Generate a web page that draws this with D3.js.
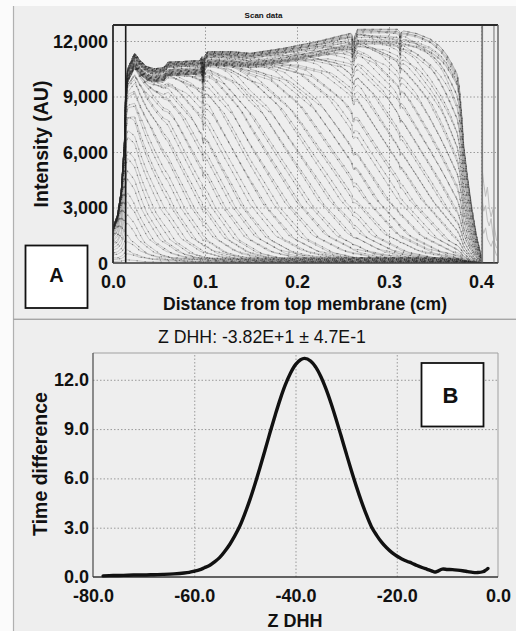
<!DOCTYPE html>
<html><head><meta charset="utf-8">
<script src="https://cdn.jsdelivr.net/npm/d3@7"></script>
<style>body{margin:0;background:#fff}svg{display:block}text{font-family:"Liberation Sans",Arial,sans-serif}</style>
</head><body><svg id="c" width="516" height="631"></svg>
<script>
// ---------- Panel A data ----------
const aTitle = "Scan data";
const aXTicks = [0.0, 0.1, 0.2, 0.3, 0.4];
const aXTickLabels = ["0.0", "0.1", "0.2", "0.3", "0.4"];
const aYTicks = [0, 3000, 6000, 9000, 12000];
const aYTickLabels = ["0", "3,000", "6,000", "9,000", "12,000"];
const meniscusX = 0.0138;
const refLinesX = [0.4013, 0.4141];
// top plateau envelope of the scans (cm, AU)
const envX = [0.0, 0.005, 0.009, 0.0125, 0.0138, 0.016, 0.0235, 0.03, 0.037, 0.045, 0.055, 0.06, 0.08, 0.095, 0.0968, 0.0975, 0.0982, 0.0992, 0.103, 0.13, 0.149, 0.185, 0.221, 0.25, 0.258, 0.2598, 0.2605, 0.2618, 0.2626, 0.266, 0.309, 0.3115, 0.3122, 0.3132, 0.316, 0.33, 0.345, 0.3554, 0.362, 0.368, 0.3742, 0.3764, 0.378, 0.3795, 0.381, 0.385, 0.39, 0.395, 0.40, 0.402, 0.42];
const envY = [1900, 2600, 3900, 6600, 9300, 10500, 11330, 10900, 10600, 10500, 10550, 10850, 10900, 10950, 11150, 10500, 10500, 11150, 11420, 11420, 11330, 11600, 11960, 12320, 12410, 12350, 11950, 11950, 12250, 12630, 12630, 12500, 12150, 12450, 12540, 12400, 12100, 11700, 11300, 10800, 10200, 9530, 8632, 7730, 6500, 4800, 3000, 1500, 400, 0, 0];
// normalised boundary profile (fraction of plateau vs distance / width)
const profU = [-3, -2, -1.5, -1, -0.5, 0, 0.5, 1, 1.5, 2, 2.5, 3];
const profF = [1, 0.996, 0.975, 0.9, 0.74, 0.5, 0.27, 0.11, 0.04, 0.012, 0.003, 0];
// boundary midpoint of each scan (cm)
const scanMid = [
-0.050,-0.040,-0.031,-0.023,-0.016,-0.010,-0.004,0.001,0.006,0.011,
0.016,0.021,0.026,0.031,0.036,0.041,0.046,0.051,0.056,0.061,
0.066,0.071,0.076,0.081,0.086,0.091,0.096,0.101,0.106,0.111,
0.116,0.121,0.128,0.134,0.139,0.145,0.151,0.156,0.162,0.168,
0.173,0.179,0.185,0.190,0.196,0.202,0.208,0.213,0.219,0.225,
0.231,0.236,0.242,0.248,0.254,0.259,0.265,0.271,0.279,0.285,
0.291,0.297,0.302,0.308,0.314,0.320,0.326,0.332,0.338,0.344,
0.350,0.356,0.362,0.368,0.374,0.380,0.386,0.392,0.398,0.405,
0.412,0.420,0.428,0.436,0.445,0.455,0.470,0.490,0.520,0.560,
0.600,0.650,0.700,0.760,0.820,0.900];
// boundary width of each scan (cm)
const scanWidth = [
0.033,0.034,0.035,0.035,0.036,0.037,0.038,0.038,0.039,0.040,
0.041,0.041,0.042,0.043,0.044,0.044,0.045,0.046,0.047,0.047,
0.048,0.049,0.050,0.050,0.051,0.052,0.053,0.053,0.054,0.055,
0.056,0.056,0.057,0.058,0.059,0.059,0.060,0.061,0.062,0.062,
0.063,0.064,0.065,0.065,0.066,0.067,0.068,0.068,0.069,0.070,
0.070,0.071,0.071,0.072,0.072,0.073,0.073,0.074,0.074,0.075,
0.075,0.075,0.076,0.076,0.076,0.077,0.077,0.077,0.078,0.078,
0.078,0.078,0.078,0.078,0.078,0.078,0.078,0.078,0.078,0.078,
0.078,0.078,0.078,0.078,0.078,0.078,0.078,0.078,0.078,0.078,
0.078,0.078,0.078,0.078,0.078,0.078];
// plateau level of each scan (fraction of envelope)
const scanLevel = [
0.92,0.93,0.925,0.935,0.93,0.94,0.935,0.945,0.93,0.95,
0.94,0.955,0.935,0.96,0.945,0.97,0.94,0.965,0.95,0.975,
0.935,0.98,0.945,0.97,0.955,0.985,0.94,0.975,0.96,0.99,
0.945,0.98,0.95,0.995,0.935,0.985,0.955,1.0,0.94,0.99,
0.96,0.975,0.945,1.0,0.95,0.985,0.935,0.995,0.965,0.98,
0.94,0.99,0.955,1.0,0.945,0.985,0.935,0.99,0.96,0.975,
0.94,0.995,0.95,1.0,0.935,0.98,0.955,0.99,0.945,1.0,
0.935,0.985,0.95,0.995,0.94,0.98,0.96,1.0,0.945,0.99,
0.935,0.985,0.955,1.0,0.94,0.975,0.95,0.995,0.965,0.985,
0.94,1.0,0.955,0.99,0.945,1.0];
// small baseline offsets seen along the bottom (AU)
const scanBase = [60, 220, 120, 280, 90, 180, 30, 250, 110, 200, 70, 150];
// faint traces right of the bottom reference line
const tailX = [0.401, 0.403, 0.405, 0.407, 0.409, 0.411, 0.413, 0.415, 0.417];
const tail1 = [5200, 4300, 3600, 4100, 3000, 2500, 2900, 1800, 1200];
const tail2 = [3500, 2800, 3100, 2300, 2000, 2400, 1500, 1100, 800];
const tail3 = [2000, 1600, 1900, 1300, 1100, 900, 1200, 700, 400];

// ---------- Panel B data ----------
const bTitle = "Z DHH: -3.82E+1 \u00B1 4.7E-1";
const bXTicks = [-80, -60, -40, -20, 0];
const bXTickLabels = ["-80.0", "-60.0", "-40.0", "-20.0", "0.0"];
const bYTicks = [0, 3, 6, 9, 12];
const bYTickLabels = ["0.0", "3.0", "6.0", "9.0", "12.0"];
const bX = [-78,-76,-74,-72,-70,-68,-66,-64,-62,-61,-60,-59,-58,-57,-56,-55,-54,-53,-52,-51,-50,-49,-48,-47,-46,-45,-44,-43,-42,-41,-40,-39,-38.2,-37,-36,-35,-34,-33,-32,-31,-30,-29,-28,-27,-26,-25,-24,-23,-22,-21,-20,-19,-18,-17,-16,-15,-14,-13,-12.5,-12,-11,-10,-9,-8,-7,-6,-5,-4,-3,-2.5,-2];
const bY = [0.07,0.09,0.10,0.12,0.12,0.14,0.16,0.19,0.24,0.28,0.35,0.43,0.56,0.70,0.92,1.18,1.55,1.98,2.50,3.10,3.86,4.71,5.66,6.68,7.74,8.82,9.86,10.84,11.70,12.40,12.92,13.22,13.30,13.14,12.77,12.20,11.46,10.59,9.62,8.59,7.54,6.51,5.53,4.62,3.79,3.06,2.55,2.12,1.78,1.50,1.28,1.10,0.96,0.84,0.70,0.58,0.47,0.36,0.30,0.34,0.48,0.46,0.45,0.42,0.38,0.33,0.28,0.27,0.32,0.40,0.52];

// ---------- drawing ----------
const FONT = "'Liberation Sans', Arial, sans-serif";
const svg = d3.select("#c");
const BG = "#eeeeee";
svg.append("rect").attr("width", 516).attr("height", 631).attr("fill", "#fbfbfb");
svg.append("rect").attr("x", 13).attr("y", 6).attr("width", 503).attr("height", 312).attr("fill", BG);
svg.append("rect").attr("x", 13).attr("y", 320).attr("width", 503).attr("height", 311).attr("fill", BG);
svg.append("line").attr("x1", 13.5).attr("x2", 13.5).attr("y1", 6).attr("y2", 631).attr("stroke", "#b0b0b0").attr("stroke-width", 1.2);
svg.append("line").attr("x1", 13).attr("x2", 516).attr("y1", 319.3).attr("y2", 319.3).attr("stroke", "#a6a6a6").attr("stroke-width", 1.5);

// Panel A
const A = {l: 113, r: 498, t: 25, b: 263};
const xA = d3.scaleLinear().domain([0, 0.4185]).range([A.l, A.r]);
const yA = d3.scaleLinear().domain([0, 12865]).range([A.b, A.t]);
svg.append("defs").append("clipPath").attr("id", "clipA")
  .append("rect").attr("x", A.l).attr("y", A.t).attr("width", A.r - A.l).attr("height", A.b - A.t);

function grid(g, axis) {
  g.call(axis).call(s => s.select(".domain").remove())
   .selectAll("line").attr("stroke", "#9a9a9a").attr("stroke-dasharray", "1.5,2");
}
grid(svg.append("g").attr("transform", `translate(0,${A.b})`),
  d3.axisBottom(xA).tickValues(aXTicks.slice(1)).tickSize(-(A.b - A.t)).tickFormat(""));
grid(svg.append("g").attr("transform", `translate(${A.l},0)`),
  d3.axisLeft(yA).tickValues(aYTicks.slice(1)).tickSize(-(A.r - A.l)).tickFormat(""));

const env = d3.scaleLinear().domain(envX).range(envY).clamp(true);
const prof = d3.scaleLinear().domain(profU).range(profF).clamp(true);
const xs = Array.from(new Set(d3.range(0, 0.4186, 0.0007).concat(envX.filter(x => x <= 0.4185)))).sort((a, b) => a - b);
const lineA = d3.line().x(d => xA(d[0])).y(d => yA(d[1]));
const scansG = svg.append("g").attr("clip-path", "url(#clipA)");
const scanData = scanMid.map((c, k) => {
  const w = scanWidth[k], lv = scanLevel[k], bf = scanBase[k % scanBase.length] / 12000;
  return xs.map(x => {
    const f = prof((x - c) / w);
    return [x, env(x) * (lv * f + bf * (1 - f))];
  });
});
scansG.selectAll("path.scan").data(scanData).join("path").attr("class", "scan")
  .attr("d", lineA).attr("fill", "none").attr("stroke", "#909090")
  .attr("stroke-width", 0.75).attr("stroke-opacity", 0.62);
scansG.selectAll("path.dots").data(scanData).join("path").attr("class", "dots")
  .attr("d", lineA).attr("fill", "none").attr("stroke", "#262626")
  .attr("stroke-width", 1.2).attr("stroke-opacity", 0.5)
  .attr("stroke-dasharray", "1 7").attr("stroke-dashoffset", (d, i) => (i * 1.7) % 8);
[tail1, tail2, tail3].forEach(t => {
  scansG.append("path").attr("d", lineA(tailX.map((x, i) => [x, t[i]])))
    .attr("fill", "none").attr("stroke", "#bdbdbd").attr("stroke-width", 1);
});

// meniscus & reference lines
svg.append("line").attr("x1", xA(meniscusX)).attr("x2", xA(meniscusX)).attr("y1", A.t).attr("y2", A.b)
  .attr("stroke", "#1a1a1a").attr("stroke-width", 1.6);
svg.append("line").attr("x1", xA(refLinesX[0])).attr("x2", xA(refLinesX[0])).attr("y1", A.t).attr("y2", A.b)
  .attr("stroke", "#7a7a7a").attr("stroke-width", 1.8);
svg.append("line").attr("x1", xA(refLinesX[1])).attr("x2", xA(refLinesX[1])).attr("y1", A.t).attr("y2", A.b)
  .attr("stroke", "#9a9a9a").attr("stroke-width", 1.5);

// frame A
svg.append("line").attr("x1", A.l).attr("x2", A.r).attr("y1", A.t).attr("y2", A.t).attr("stroke", "#2a2a2a").attr("stroke-width", 1.8);
svg.append("line").attr("x1", A.l).attr("x2", A.l).attr("y1", A.t).attr("y2", A.b).attr("stroke", "#2a2a2a").attr("stroke-width", 1.8);
svg.append("line").attr("x1", A.r).attr("x2", A.r).attr("y1", A.t).attr("y2", A.b).attr("stroke", "#666").attr("stroke-width", 1.5);
svg.append("line").attr("x1", A.l).attr("x2", A.r).attr("y1", A.b).attr("y2", A.b).attr("stroke", "#3a3a3a").attr("stroke-width", 1.5);

function styleTicks(sel, dy) {
  sel.call(s => s.select(".domain").remove())
    .selectAll("text").attr("font-family", FONT).attr("font-size", 18).attr("font-weight", "bold").attr("fill", "#111");
  if (dy !== undefined) sel.selectAll("text").attr("dy", dy);
}
styleTicks(svg.append("g").attr("transform", `translate(${A.l},0)`)
  .call(d3.axisLeft(yA).tickValues(aYTicks).tickSize(0).tickPadding(5).tickFormat((d, i) => aYTickLabels[i])), "0.36em");
styleTicks(svg.append("g").attr("transform", `translate(0,${A.b})`)
  .call(d3.axisBottom(xA).tickValues(aXTicks).tickSize(0).tickPadding(12).tickFormat((d, i) => aXTickLabels[i])));
svg.append("text").attr("x", 305).attr("y", 309.5).attr("text-anchor", "middle")
  .attr("font-size", 17.5).attr("font-weight", "bold").attr("fill", "#111").text("Distance from top membrane (cm)");
svg.append("text").attr("transform", "translate(48,144) rotate(-90)").attr("text-anchor", "middle")
  .attr("font-size", 19.5).attr("font-weight", "bold").attr("fill", "#111").text("Intensity (AU)");
svg.append("text").attr("x", 263.5).attr("y", 18).attr("text-anchor", "middle")
  .attr("font-size", 8).attr("font-weight", "bold").attr("fill", "#111").text(aTitle);
svg.append("rect").attr("x", 25.5).attr("y", 245.5).attr("width", 62).attr("height", 62.5)
  .attr("fill", "#fff").attr("stroke", "#111").attr("stroke-width", 1.8);
svg.append("text").attr("x", 56.5).attr("y", 282).attr("text-anchor", "middle")
  .attr("font-size", 20).attr("font-weight", "bold").attr("fill", "#111").text("A");

// Panel B
const B = {l: 93, r: 498, t: 353, b: 577};
const xB = d3.scaleLinear().domain([-80, 0]).range([B.l, B.r]);
const yB = d3.scaleLinear().domain([0, 13.63]).range([B.b, B.t]);
grid(svg.append("g").attr("transform", `translate(0,${B.b})`),
  d3.axisBottom(xB).tickValues(bXTicks.slice(1, 4)).tickSize(-(B.b - B.t)).tickFormat(""));
grid(svg.append("g").attr("transform", `translate(${B.l},0)`),
  d3.axisLeft(yB).tickValues(bYTicks.slice(1)).tickSize(-(B.r - B.l)).tickFormat(""));
svg.append("line").attr("x1", B.l).attr("x2", B.r).attr("y1", B.t).attr("y2", B.t).attr("stroke", "#a0a0a0").attr("stroke-width", 1);
svg.append("line").attr("x1", B.r).attr("x2", B.r).attr("y1", B.t).attr("y2", B.b).attr("stroke", "#a0a0a0").attr("stroke-width", 1);
svg.append("line").attr("x1", B.l).attr("x2", B.l).attr("y1", B.t).attr("y2", B.b).attr("stroke", "#555").attr("stroke-width", 1.3);
svg.append("line").attr("x1", B.l).attr("x2", B.r).attr("y1", B.b).attr("y2", B.b).attr("stroke", "#333").attr("stroke-width", 1.5);

const lineB = d3.line().x((d, i) => xB(bX[i])).y((d, i) => yB(bY[i])).curve(d3.curveCatmullRom);
svg.append("path").attr("d", lineB(bY)).attr("fill", "none").attr("stroke", "#111")
  .attr("stroke-width", 3.4).attr("stroke-linejoin", "round").attr("stroke-linecap", "round");

styleTicks(svg.append("g").attr("transform", `translate(${B.l},0)`)
  .call(d3.axisLeft(yB).tickValues(bYTicks).tickSize(0).tickPadding(4).tickFormat((d, i) => bYTickLabels[i])), "0.3em");
styleTicks(svg.append("g").attr("transform", `translate(0,${B.b})`)
  .call(d3.axisBottom(xB).tickValues(bXTicks).tickSize(0).tickPadding(12).tickFormat((d, i) => bXTickLabels[i])));
svg.append("text").attr("x", 262).attr("y", 343).attr("text-anchor", "middle")
  .attr("font-size", 17.7).attr("fill", "#111").text(bTitle);
svg.append("text").attr("x", 295).attr("y", 627).attr("text-anchor", "middle")
  .attr("font-size", 18).attr("font-weight", "bold").attr("fill", "#111").text("Z DHH");
svg.append("text").attr("transform", "translate(47,464) rotate(-90)").attr("text-anchor", "middle")
  .attr("font-size", 19.5).attr("font-weight", "bold").attr("fill", "#111").text("Time difference");
svg.append("rect").attr("x", 421.5).attr("y", 363).attr("width", 62).attr("height", 63.5)
  .attr("fill", "#fff").attr("stroke", "#111").attr("stroke-width", 1.8);
svg.append("text").attr("x", 450.5).attr("y", 402.5).attr("text-anchor", "middle")
  .attr("font-size", 22).attr("font-weight", "bold").attr("fill", "#111").text("B");
</script></body></html>
